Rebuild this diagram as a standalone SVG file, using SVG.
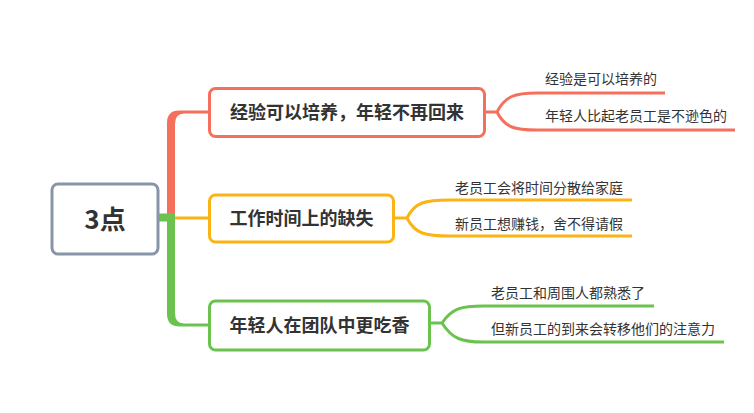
<svg xmlns="http://www.w3.org/2000/svg" width="754" height="413" viewBox="0 0 754 413">
<style>
text{font-family:"Noto Sans CJK SC","Liberation Sans",sans-serif;fill:#333}
.box{fill:#fff;stroke-width:3}
.main{font-size:18px;font-weight:bold;text-anchor:middle}
.sub{font-size:14px}
.ln{fill:none;stroke-width:3}
.red{stroke:#f5705c}
.org{stroke:#fbb315}
.grn{stroke:#6cc24f}
</style>
<rect width="754" height="413" fill="#fff"/>
<g id="connectors">
<path fill="#f5705c" d="M167 217 V123 Q167 110.5 179 110.5 H209 V113.5 H184 Q175 113.5 175 124 V217 Z"/>
<path fill="#6cc24f" d="M167 214 V314 Q167 326.5 180 326.5 H209 V323.5 H184 Q175 323.5 175 313 V214 Z"/>
<path fill="#6cc24f" d="M159 213.5 H175 V221.5 H159 Z"/>
<path class="ln org" d="M175 218 H209"/>
<path class="ln red" d="M485 112 H497 C505 96 515 93 537 93 H665 M497 112 C505 128 515 130 537 130 H735"/>
<path class="ln org" d="M394 218 H407 C415 202 425 200 450 200 H632 M407 218 C415 234 425 236 450 236 H632"/>
<path class="ln grn" d="M430 323 H442 C452 308 462 306 483 306 H654 M442 323 C452 339 462 342 483 342 H724"/>
</g>
<g id="root">
<rect x="52" y="184" width="106" height="70" rx="6" class="box" stroke="#8895a8"/>
<text x="105" y="229" font-size="26" font-weight="bold" text-anchor="middle">3点</text>
</g>
<g id="n1">
<rect x="209.5" y="88.5" width="275" height="48" rx="6" class="box red"/>
<text x="347" y="119" class="main">经验可以培养，年轻不再回来</text>
</g>
<g id="n1a"><text x="545" y="84" class="sub">经验是可以培养的</text></g>
<g id="n1b"><text x="545" y="121" class="sub">年轻人比起老员工是不逊色的</text></g>
<g id="n2">
<rect x="209.5" y="195" width="184" height="47" rx="6" class="box org"/>
<text x="301.5" y="225" class="main">工作时间上的缺失</text>
</g>
<g id="n2a"><text x="455" y="193" class="sub">老员工会将时间分散给家庭</text></g>
<g id="n2b"><text x="455" y="229" class="sub">新员工想赚钱，舍不得请假</text></g>
<g id="n3">
<rect x="209.5" y="301" width="220" height="49" rx="6" class="box grn"/>
<text x="319.5" y="332" class="main">年轻人在团队中更吃香</text>
</g>
<g id="n3a"><text x="491" y="298" class="sub">老员工和周围人都熟悉了</text></g>
<g id="n3b"><text x="491" y="334" class="sub">但新员工的到来会转移他们的注意力</text></g>
</svg>
